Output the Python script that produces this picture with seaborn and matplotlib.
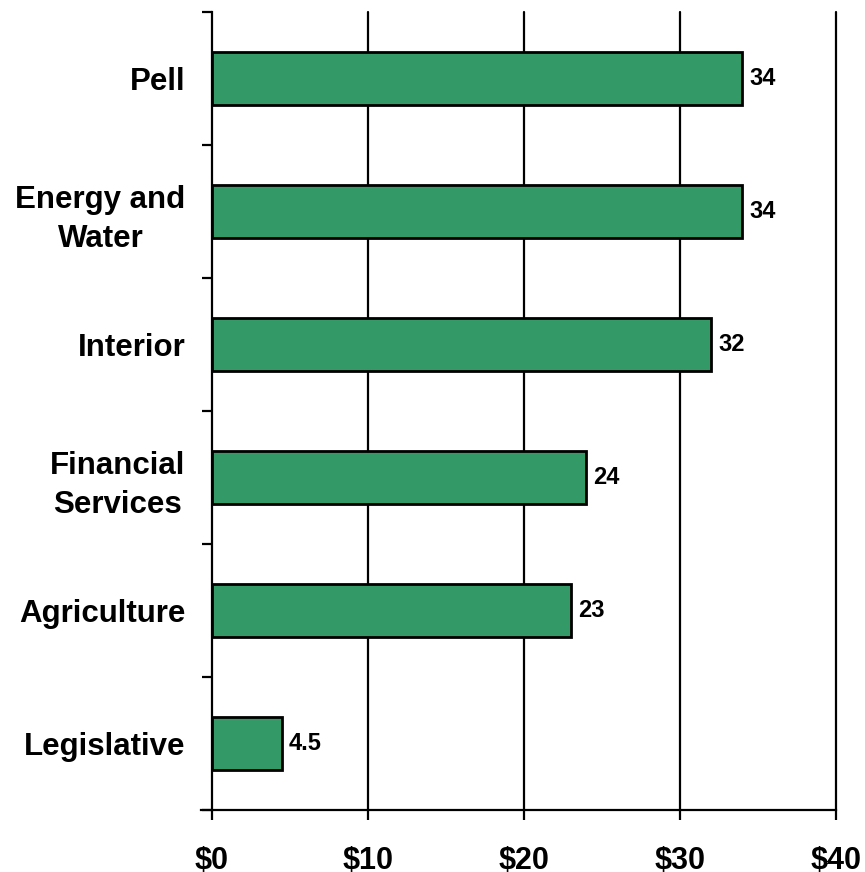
import matplotlib
matplotlib.use("Agg")
import matplotlib.pyplot as plt
import seaborn as sns
import pandas as pd
from matplotlib.ticker import FixedLocator

categories = ["Pell", "Energy and\nWater", "Interior", "Financial\nServices", "Agriculture", "Legislative"]
values = [34, 34, 32, 24, 23, 4.5]
x_ticks = [0, 10, 20, 30, 40]
x_tick_labels = ["$0", "$10", "$20", "$30", "$40"]

df = pd.DataFrame({"category": categories, "value": values})

sns.set_style("white")
plt.rcParams["font.family"] = ["Liberation Sans", "DejaVu Sans"]
plt.rcParams["font.weight"] = "bold"
plt.rcParams["text.color"] = "black"
plt.rcParams["xtick.color"] = "black"
plt.rcParams["ytick.color"] = "black"

fig = plt.figure(figsize=(8.65, 8.72), dpi=100)
ax = fig.add_axes([0.245, 0.0711, 0.7215, 0.9149])

sns.barplot(data=df, x="value", y="category", orient="h", color="#339966",
            saturation=1, width=0.4, edgecolor="black", linewidth=2, ax=ax, zorder=3)

ax.set_xlim(0, 40)
ax.set_ylim(5.5, -0.5)
ax.set_xticks(x_ticks)
ax.set_xticklabels(x_tick_labels, fontsize=22, fontweight="bold", color="black")
ax.tick_params(axis="x", bottom=True, direction="out", length=7.5, width=1.6, pad=18.5, color="black")

# category labels sit between boundary ticks
ax.yaxis.set_minor_locator(FixedLocator([i - 0.5 for i in range(len(categories) + 1)]))
ax.tick_params(axis="y", which="major", left=True, length=0, pad=19)
ax.tick_params(axis="y", which="minor", left=True, direction="out", length=7.5, width=1.6, color="black")
for lbl in ax.get_yticklabels():
    lbl.set_fontsize(22.5)
    lbl.set_fontweight("bold")
    lbl.set_color("black")
    lbl.set_multialignment("center")
    lbl.set_linespacing(1.4)

ax.set_xlabel("")
ax.set_ylabel("")

for x in x_ticks[1:]:
    ax.axvline(x, color="black", linewidth=1.6, zorder=1, clip_on=False)

for side in ["top", "right"]:
    ax.spines[side].set_visible(False)
for side in ["left", "bottom"]:
    ax.spines[side].set_color("black")
    ax.spines[side].set_linewidth(1.6)
ax.spines["bottom"].set_bounds(-0.7, 40)

ax.bar_label(ax.containers[0], labels=[f"{v:g}" for v in values], padding=5,
             fontsize=17, fontweight="bold", color="black")

fig.savefig("out.png", dpi=100)
